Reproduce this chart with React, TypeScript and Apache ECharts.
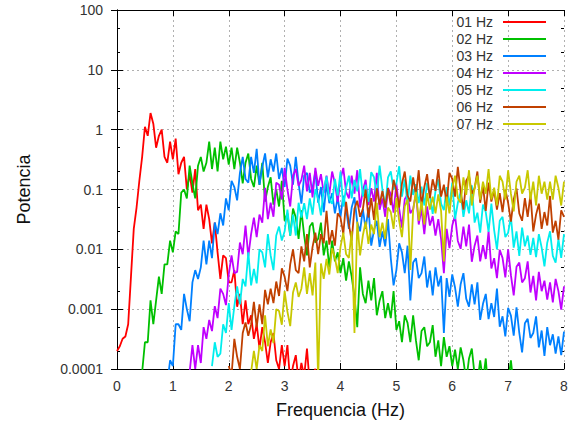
import React, { useEffect, useRef } from "react";
import * as echarts from "echarts";

const STEP = 0.05;
const seriesNames = ["01 Hz", "02 Hz", "03 Hz", "04 Hz", "05 Hz", "06 Hz", "07 Hz"];
const seriesColors = ["#ff0000", "#00c000", "#0080ff", "#c000ff", "#00eeee", "#c04000", "#c8c800"];
const seriesStarts = [0, 0.4, 0.9, 1.3, 1.7, 2.0, 2.4];

const hz01 = [2e-4,2.4e-4,3.2e-4,3.5e-4,5.6e-4,3.5e-3,0.022,0.05,0.14,0.35,1.12,0.79,1.9,1.26,0.5,0.79,1.0,0.35,0.28,0.63,0.32,0.71,0.18,0.28,0.35,0.1,0.18,0.089,0.22,0.045,0.056,0.022,0.056,0.032,0.0126,0.028,0.0089,0.0032,0.0079,0.0071,0.0028,0.0028,0.0045,0.0011,0.0018,5.6e-4,1.4e-3,5.6e-4,7.9e-4,3.2e-4,5.6e-4,2.2e-4,5e-4,2.8e-4,1.26e-4,2.8e-4,4e-4,1.4e-4,1e-4,2.5e-4,1.12e-4,2.5e-4,6e-5,1.12e-4,1.7e-4,6.3e-5,1.26e-4,7.6e-5,2.2e-4,5.4e-5,8e-5,1e-4,5e-5];

const hz02 = [5e-5,8.9e-5,2.8e-4,2.8e-4,1.4e-3,5.6e-4,1.4e-3,3.5e-3,1.8e-3,5.6e-3,5.6e-3,0.014,8.9e-3,0.02,0.018,0.089,0.1,0.071,0.25,0.126,0.071,0.25,0.35,0.2,0.28,0.63,0.22,0.5,0.2,0.63,0.32,0.52,0.26,0.5,0.22,0.5,0.28,0.126,0.28,0.4,0.15,0.11,0.25,0.12,0.28,0.063,0.11,0.16,0.056,0.1,0.052,0.14,0.03,0.04,0.017,0.048,0.034,0.015,0.045,0.017,0.0079,0.024,0.028,0.013,0.015,0.028,0.0079,0.014,0.005,0.014,0.0063,0.0089,0.004,0.0071,0.003,0.0063,0.0035,0.0016,5e-4,0.005,0.0018,0.00126,0.003,0.0014,0.0033,7.9e-4,1.4e-3,2e-3,7.1e-4,1.26e-3,7.1e-4,2e-3,4.5e-4,6.3e-4,2.8e-4,7.9e-4,5.9e-4,2.8e-4,7.9e-4,3e-4,1.4e-4,4.3e-4,5e-4,2.4e-4,2.8e-4,5.4e-4,1.6e-4,3e-4,1.12e-4,3.4e-4,1.6e-4,2.4e-4,1.12e-4,2.1e-4,1e-4,2.3e-4,1.4e-4,6.3e-5,1.5e-4,2.2e-4,7.9e-5,5.9e-5,1.4e-4,6.3e-5,1.5e-4,3.5e-5,6.3e-5,8.9e-5,3.2e-5,6.3e-5,3.5e-5,5e-5,6.3e-5,1.4e-4,5e-5,3.2e-5];

const hz03 = [5.6e-5,1.4e-4,1.12e-4,5.6e-4,5.6e-4,4.5e-4,1.8e-3,1e-3,6.3e-4,2.8e-3,4.5e-3,3.2e-3,5e-3,0.014,5.6e-3,0.014,7.1e-3,0.028,0.018,0.04,0.025,0.071,0.045,0.14,0.11,0.066,0.19,0.35,0.15,0.13,0.35,0.19,0.48,0.12,0.24,0.4,0.16,0.32,0.2,0.4,0.15,0.23,0.11,0.33,0.25,0.12,0.35,0.126,0.058,0.17,0.19,0.089,0.105,0.2,0.06,0.11,0.042,0.126,0.059,0.087,0.04,0.074,0.035,0.079,0.047,0.022,0.05,0.074,0.028,0.02,0.047,0.022,0.05,0.0115,0.021,0.03,0.011,0.02,0.0112,0.032,0.0071,0.0025,0.0045,0.0126,0.0089,0.004,0.0115,0.0014,0.006,0.0071,0.0033,0.004,0.0076,0.0023,0.0044,0.0017,0.005,0.0024,0.0036,4e-4,0.0033,0.0016,0.0038,0.0023,0.0011,0.0026,0.004,0.0015,0.0011,0.0026,0.0012,0.0028,6.6e-4,1.23e-3,1.8e-3,6.8e-4,1.26e-3,7.4e-4,2.2e-3,5.1e-4,7.6e-4,3.5e-4,1.05e-3,7.8e-4,3.6e-4,1.07e-3,4e-4,1.9e-4,5.8e-4,6.9e-4,3.3e-4,4e-4,7.6e-4,2.3e-4,4.4e-4,1.66e-4,5e-4,2.5e-4,3.8e-4,1.8e-4,3.5e-4,1.7e-4,4.2e-4];

const hz04 = [8.9e-5,2.5e-4,1e-4,2.5e-4,1.26e-4,5e-4,3.2e-4,6.6e-4,4.3e-4,1.12e-3,7.1e-4,2.2e-3,1.8e-3,1.17e-3,3.8e-3,7.9e-3,4e-3,4.2e-3,0.013,8.3e-3,0.025,7.6e-3,0.018,0.034,0.016,0.038,0.028,0.107,0.032,0.06,0.035,0.13,0.12,0.068,0.23,0.1,0.052,0.17,0.22,0.115,0.145,0.25,0.093,0.19,0.074,0.23,0.115,0.18,0.087,0.17,0.083,0.2,0.126,0.062,0.15,0.23,0.091,0.071,0.17,0.085,0.21,0.05,0.095,0.145,0.055,0.105,0.063,0.19,0.046,0.071,0.035,0.107,0.083,0.041,0.126,0.048,0.023,0.069,0.083,0.04,0.047,0.087,0.026,0.048,0.018,0.052,0.025,0.036,0.017,0.032,0.015,0.004,0.022,0.0105,0.025,0.037,0.0138,0.0102,0.024,0.0112,0.026,0.0062,0.0115,0.017,0.0063,0.0117,0.0069,0.02,0.0048,0.0071,0.0033,0.0098,0.0072,0.0034,0.01,0.0037,0.0017,0.0051,0.006,0.0028,0.0033,0.0063,0.0019,0.0036,0.0014,0.0042,0.002,0.003,0.00145,0.0028,0.0013,0.0032,0.002,0.00098,0.0024];

const hz05 = [1.12e-4,2.8e-4,1.6e-4,1.8e-4,5.6e-4,4e-4,1.26e-3,4.5e-4,1.12e-3,2.4e-3,1.2e-3,3.2e-3,2.4e-3,8.9e-3,2.5e-3,4.7e-3,2.7e-3,0.01,8.9e-3,5e-3,0.018,7.9e-3,4.5e-3,0.017,0.024,0.014,0.02,0.046,0.017,0.038,0.017,0.06,0.034,0.059,0.032,0.071,0.038,0.102,0.069,0.037,0.1,0.166,0.069,0.058,0.15,0.079,0.2,0.052,0.107,0.17,0.071,0.145,0.093,0.22,0.076,0.12,0.062,0.195,0.16,0.079,0.25,0.1,0.05,0.16,0.2,0.1,0.126,0.245,0.076,0.148,0.056,0.17,0.081,0.123,0.059,0.112,0.054,0.129,0.079,0.039,0.095,0.148,0.058,0.045,0.11,0.054,0.13,0.032,0.06,0.091,0.035,0.066,0.04,0.117,0.028,0.041,0.019,0.056,0.042,0.0195,0.058,0.021,0.01,0.03,0.035,0.016,0.019,0.035,0.0107,0.02,0.0078,0.023,0.0112,0.017,0.0081,0.0155,0.0074,0.018,0.0107,0.0052,0.0129,0.02,0.0078,0.006,0.0148,0.0072,0.018];

const hz06 = [1.12e-4,7.9e-5,3.2e-4,1.6e-4,1e-4,4e-4,6e-4,3.6e-4,5.5e-4,1.32e-3,5e-4,1.2e-3,5.6e-4,2.1e-3,1.2e-3,2.2e-3,1.26e-3,2.9e-3,1.66e-3,4.8e-3,3.5e-3,2e-3,5.6e-3,0.01,4.5e-3,4e-3,0.0112,6.3e-3,0.018,5e-3,0.011,0.019,8.3e-3,0.018,0.0126,0.044,0.012,0.021,0.0115,0.04,0.034,0.018,0.062,0.026,0.014,0.048,0.065,0.035,0.047,0.1,0.034,0.072,0.031,0.105,0.056,0.095,0.05,0.105,0.055,0.145,0.095,0.05,0.126,0.2,0.079,0.063,0.16,0.081,0.21,0.054,0.11,0.18,0.072,0.148,0.095,0.22,0.076,0.12,0.06,0.19,0.15,0.076,0.24,0.093,0.046,0.14,0.17,0.085,0.105,0.2,0.06,0.115,0.044,0.13,0.063,0.095,0.046,0.087,0.042,0.1,0.06,0.029,0.069,0.105,0.04,0.03,0.072,0.035,0.083,0.02,0.038,0.058,0.022,0.042,0.025,0.078,0.019,0.03,0.0145,0.045,0.035];

const hz07 = [8.9e-5,2e-4,1e-4,2.5e-4,2e-4,7.9e-4,2.4e-4,4.6e-4,2.7e-4,1e-3,9.3e-4,5.5e-4,2e-3,9.1e-4,5.2e-4,1.9e-3,2.8e-3,1.6e-3,2.2e-3,5e-3,1.8e-3,4e-3,1.7e-3,6e-3,6.3e-5,5.8e-3,3.2e-3,6.9e-3,3.8e-3,0.0105,7.2e-3,4e-3,0.011,0.019,8.3e-3,7.2e-3,0.02,4e-4,0.029,7.9e-3,0.017,0.029,0.0123,0.026,0.018,0.06,0.016,0.028,0.015,0.05,0.042,0.022,0.072,0.03,0.016,0.052,0.068,4.5e-3,0.045,0.091,0.03,0.063,0.026,0.087,0.046,0.076,0.04,0.083,0.044,6.3e-3,0.076,0.04,0.105,0.17,0.072,0.06,0.16,0.081,0.21,0.054,0.107,0.17,0.068,0.135,0.085,0.22,0.068,0.107,0.054,0.17,0.135,0.068,0.21,0.085,0.043,0.135,0.17,0.085,0.107,0.21,0.068,0.135,0.054,0.17,0.085,0.135,0.068,0.135,0.068,0.17,0.107,0.054,0.135];

const seriesValues = [hz01, hz02, hz03, hz04, hz05, hz06, hz07];

const yTickLabels = ["0.0001", "0.001", "0.01", "0.1", "1", "10", "100"];
const yMinorTicks = [2e-4, 5e-4, 2e-3, 5e-3, 0.02, 0.05, 0.2, 0.5, 2, 5, 20, 50];

const FONT = "Liberation Sans";

export default function App() {
  const ref = useRef<HTMLDivElement>(null);

  useEffect(() => {
    if (!ref.current) return;
    const chart = echarts.init(ref.current, null, { renderer: "svg" });

    const yBase = {
      type: "log",
      logBase: 10,
      min: 0.0001,
      max: 100,
      splitNumber: 6,
    };

    const series = seriesNames.map((name, k) => ({
      name,
      type: "line",
      xAxisIndex: 0,
      yAxisIndex: 0,
      symbol: "none",
      showSymbol: false,
      clip: true,
      silent: true,
      color: seriesColors[k],
      lineStyle: { color: seriesColors[k], width: 1.8 },
      data: seriesValues[k].map((v, i) => [+(seriesStarts[k] + i * STEP).toFixed(2), v]),
    }));

    chart.setOption({
      animation: false,
      backgroundColor: "#ffffff",
      textStyle: { fontFamily: FONT },
      grid: { left: 117, right: 7, top: 10, bottom: 56, containLabel: false },
      legend: {
        orient: "vertical",
        right: 20,
        top: 10,
        align: "right",
        itemWidth: 43,
        itemHeight: 14,
        itemGap: 3,
        icon: "path://M0,0H43V2H0Z",
        selectedMode: false,
        textStyle: { fontSize: 14, color: "#333", fontFamily: FONT, lineHeight: 14, padding: [0, 5, 0, 0] },
        data: seriesNames,
      },
      xAxis: [
        {
          type: "value",
          min: 0,
          max: 8,
          interval: 1,
          position: "bottom",
          name: "Frequencia (Hz)",
          nameLocation: "middle",
          nameGap: 32,
          nameTextStyle: { fontSize: 18, color: "#111", fontFamily: FONT },
          axisLine: { show: true, lineStyle: { color: "#000", width: 1 } },
          axisTick: { show: true, inside: true, length: 6, lineStyle: { color: "#000" } },
          axisLabel: { fontSize: 14, color: "#333", margin: 10, fontFamily: FONT },
          splitLine: { show: true, lineStyle: { color: "#b0b0b0", type: [2, 3], width: 1 } },
        },
        {
          type: "value",
          min: 0,
          max: 8,
          interval: 1,
          position: "top",
          axisLine: { show: true, lineStyle: { color: "#000", width: 1 } },
          axisTick: { show: true, inside: true, length: 6, lineStyle: { color: "#000" } },
          axisLabel: { show: false },
          splitLine: { show: false },
        },
      ],
      yAxis: [
        {
          ...yBase,
          position: "left",
          name: "Potencia",
          nameLocation: "middle",
          nameGap: 84,
          nameTextStyle: { fontSize: 18, color: "#111", fontFamily: FONT },
          axisLine: { show: true, lineStyle: { color: "#000", width: 1 } },
          axisTick: { show: true, inside: true, length: 6, lineStyle: { color: "#000" } },
          axisLabel: {
            fontSize: 14,
            color: "#333",
            margin: 14,
            fontFamily: FONT,
            formatter: (v: number) => yTickLabels[Math.round(Math.log10(v)) + 4] ?? "",
          },
          splitLine: { show: true, lineStyle: { color: "#b0b0b0", type: [2, 3], width: 1 } },
        },
        {
          ...yBase,
          position: "right",
          axisLine: { show: true, lineStyle: { color: "#000", width: 1 } },
          axisTick: { show: true, inside: true, length: 6, lineStyle: { color: "#000" } },
          axisLabel: { show: false },
          splitLine: { show: false },
        },
        {
          ...yBase,
          position: "left",
          axisLine: { show: false },
          axisTick: { show: true, inside: true, length: 3, customValues: yMinorTicks, lineStyle: { color: "#000" } },
          axisLabel: { show: false },
          splitLine: { show: false },
        },
        {
          ...yBase,
          position: "right",
          axisLine: { show: false },
          axisTick: { show: true, inside: true, length: 3, customValues: yMinorTicks, lineStyle: { color: "#000" } },
          axisLabel: { show: false },
          splitLine: { show: false },
        },
      ],
      series,
    });

    return () => chart.dispose();
  }, []);

  return (
    <div
      ref={ref}
      style={{ position: "fixed", left: 0, top: 0, width: 571, height: 425, background: "#fff" }}
    />
  );
}
